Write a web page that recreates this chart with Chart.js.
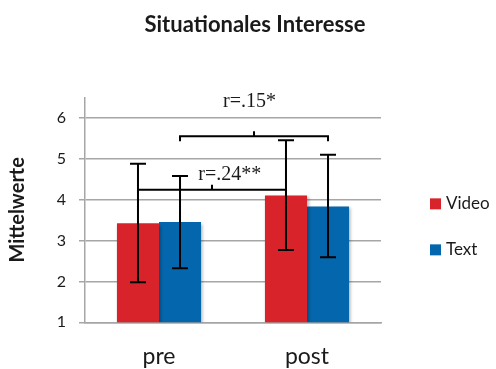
<!DOCTYPE html>
<html>
<head>
<meta charset="utf-8">
<script src="https://cdn.jsdelivr.net/npm/chart.js@4.4.1/dist/chart.umd.min.js"></script>
<style>
  html, body { margin: 0; padding: 0; background: #fff; }
  #wrap { width: 496px; height: 369px; }
</style>
</head>
<body>
<div id="wrap"><canvas id="chart"></canvas></div>
<script>
// ── Data ──────────────────────────────────────────────────────
const CATEGORIES = ['pre', 'post'];
const SERIES     = ['Video', 'Text'];
const VIDEO      = [3.42, 4.10];
const TEXT       = [3.45, 3.83];
const VIDEO_LOW  = [1.98, 2.77];
const VIDEO_HIGH = [4.88, 5.45];
const TEXT_LOW   = [2.32, 2.59];
const TEXT_HIGH  = [4.58, 5.10];
const Y_TICKS    = [1, 2, 3, 4, 5, 6];

// correlation brackets: series they join, bracket height, label baseline
const BRACKET_TEXT   = ['r=.24**', 'r=.15*'];
const BRACKET_SERIES = [0, 1];
const BRACKET_Y      = [4.24, 5.55];
const BRACKET_LABEL  = [4.48, 6.27];

// ── Palette ───────────────────────────────────────────────────
const COLORS = {
  red:  '#d9232a',
  blue: '#0467ad',
  grid: '#a6a6a6',
  text: '#1a1a1a',
};

// soft drop shadow under the bars (Excel look)
const barShadow = {
  id: 'barShadow',
  beforeDatasetsDraw(chart) {
    const ctx = chart.ctx;
    ctx.save();
    ctx.shadowColor = 'rgba(0,0,0,0.28)';
    ctx.shadowBlur = 3;
    ctx.shadowOffsetX = 1.5;
    ctx.shadowOffsetY = 1.5;
  },
  afterDatasetsDraw(chart) { chart.ctx.restore(); }
};

// error bars + brackets drawn on top of bars
const overlays = {
  id: 'overlays',
  afterDatasetsDraw(chart) {
    const { ctx, scales: { y } } = chart;
    const ranges = [[VIDEO_LOW, VIDEO_HIGH], [TEXT_LOW, TEXT_HIGH]];
    ctx.save();
    ctx.strokeStyle = '#000';
    ctx.lineWidth = 2;

    ranges.forEach(([lo, hi], di) => {
      chart.getDatasetMeta(di).data.forEach((bar, i) => {
        const x = bar.x, top = y.getPixelForValue(hi[i]), bot = y.getPixelForValue(lo[i]);
        ctx.beginPath();
        ctx.moveTo(x, top); ctx.lineTo(x, bot);
        ctx.moveTo(x - 8, top); ctx.lineTo(x + 8, top);
        ctx.moveTo(x - 8, bot); ctx.lineTo(x + 8, bot);
        ctx.stroke();
      });
    });

    ctx.fillStyle = COLORS.text;
    ctx.font = '20px "Liberation Serif", "Times New Roman", serif';
    ctx.textAlign = 'center';
    ctx.textBaseline = 'alphabetic';
    BRACKET_TEXT.forEach((label, k) => {
      const bars = chart.getDatasetMeta(BRACKET_SERIES[k]).data;
      const x0 = bars[0].x, x1 = bars[1].x, by = y.getPixelForValue(BRACKET_Y[k]);
      const mid = (x0 + x1) / 2;
      ctx.beginPath();
      ctx.moveTo(x0, by + 5); ctx.lineTo(x0, by); ctx.lineTo(x1, by); ctx.lineTo(x1, by + 5);
      ctx.moveTo(mid, by); ctx.lineTo(mid, by - 5);
      ctx.stroke();
      const lx = x0 + (x1 - x0) * (k === 0 ? 0.62 : 0.47);
      ctx.fillText(label, lx, y.getPixelForValue(BRACKET_LABEL[k]));
    });
    ctx.restore();
  }
};

// legend on the right, square swatches
const sideLegend = {
  id: 'sideLegend',
  afterDraw(chart) {
    const { ctx, chartArea } = chart;
    const x = chartArea.right + 49;
    const cy = (chartArea.top + chartArea.bottom) / 2 - 6;
    ctx.save();
    ctx.font = '17px Lato, sans-serif';
    ctx.textBaseline = 'middle';
    ctx.textAlign = 'left';
    chart.data.datasets.forEach((ds, i) => {
      const yy = cy + i * 46;
      ctx.fillStyle = ds.backgroundColor;
      ctx.fillRect(x, yy - 5.5, 11, 11);
      ctx.fillStyle = COLORS.text;
      ctx.fillText(ds.label, x + 16, yy);
    });
    ctx.restore();
  }
};

new Chart(document.getElementById('chart'), {
  type: 'bar',
  data: {
    labels: CATEGORIES,
    datasets: [
      { label: SERIES[0], data: VIDEO, backgroundColor: COLORS.red },
      { label: SERIES[1], data: TEXT,  backgroundColor: COLORS.blue },
    ]
  },
  options: {
    responsive: true,
    maintainAspectRatio: false,
    animation: false,
    layout: { padding: { left: 14, right: 0, top: 0, bottom: 0 } },
    datasets: { bar: { barPercentage: 1.0, categoryPercentage: 0.568, borderWidth: 0 } },
    plugins: {
      legend: { display: false },
      tooltip: { enabled: false },
      title: {
        display: true,
        text: 'Situationales Interesse',
        color: COLORS.text,
        font: { family: 'Lato', size: 22, weight: 'bold' },
        padding: { top: 12, bottom: 59 },
      },
    },
    scales: {
      x: {
        grid: { display: false, drawTicks: false },
        border: { display: true, color: COLORS.grid, width: 1.5 },
        ticks: { color: COLORS.text, font: { family: 'Lato', size: 23 }, padding: 20 },
        afterFit: s => { s.height = 46.7; },
      },
      y: {
        min: 1,
        max: 6.5,
        afterBuildTicks: s => { s.ticks = Y_TICKS.map(v => ({ value: v })); },
        grid: { color: COLORS.grid, lineWidth: 1.5, tickLength: 6 },
        border: { display: true, color: COLORS.grid, width: 1.5 },
        ticks: { color: COLORS.text, font: { family: 'Lato', size: 16 }, padding: 13 },
        title: {
          display: true,
          text: 'Mittelwerte',
          color: COLORS.text,
          font: { family: 'Lato', size: 20, weight: 'bold' },
          padding: { top: -8, bottom: 0 },
        },
        afterFit: s => { s.width = 71; },
      },
      // empty right-hand axis that keeps room for the legend
      y2: {
        position: 'right',
        grid: { display: false },
        ticks: { display: false },
        border: { display: false },
        afterFit: s => { s.width = 115; },
      },
    },
  },
  plugins: [barShadow, overlays, sideLegend],
});
</script>
</body>
</html>
